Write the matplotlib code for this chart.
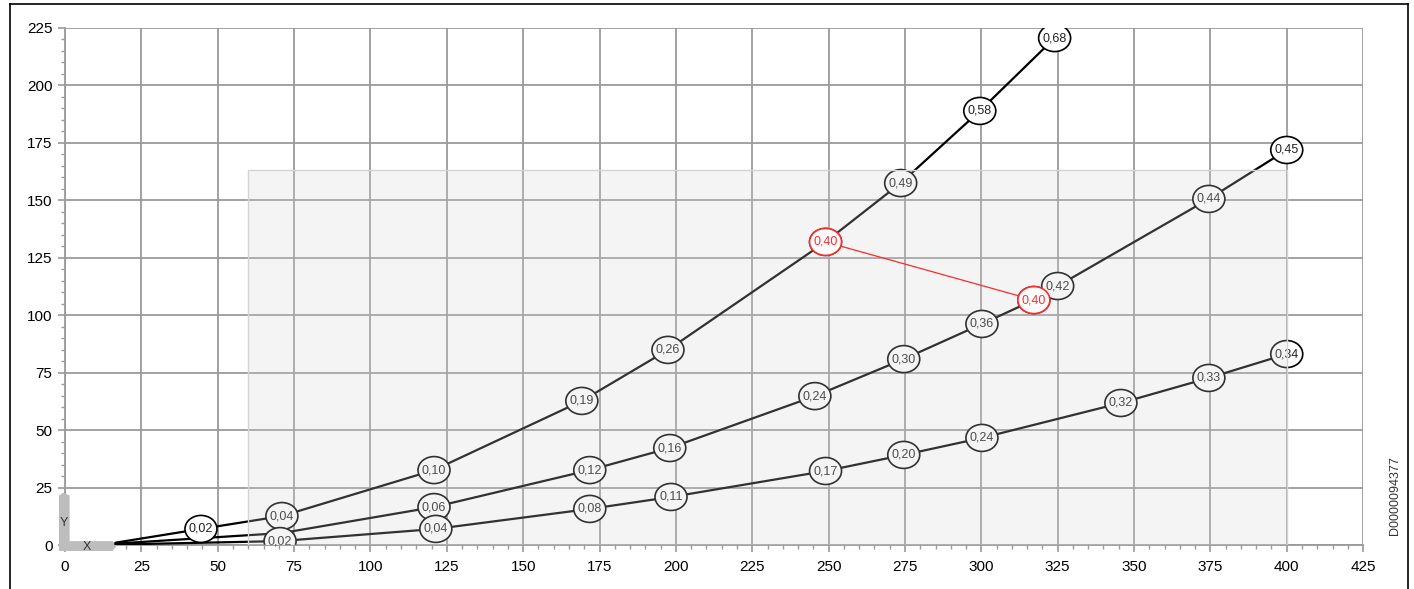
import matplotlib
matplotlib.use("Agg")
from matplotlib import pyplot as plt
from matplotlib.patches import Ellipse, Rectangle, Polygon
from matplotlib.lines import Line2D

plt.rcParams['font.family'] = ['Liberation Sans', 'DejaVu Sans']

# flow curves: (x, y) points with the value shown in each ring ('' = no ring)
top_x = [16.5, 44.5, 71, 120.8, 169.2, 197.4, 249, 273.6, 299.5, 324]
top_y = [1.0, 7.0, 12.6, 32.6, 62.7, 84.9, 131.9, 157.5, 188.9, 220.6]
top_lab = ['', '0,02', '0,04', '0,10', '0,19', '0,26', '0,40', '0,49', '0,58', '0,68']

mid_x = [16.5, 71, 120.8, 171.8, 198, 245.5, 274.6, 300.2, 317.2, 325, 374.5, 400]
mid_y = [0.6, 5.2, 16.5, 32.6, 42.2, 64.8, 80.9, 96.2, 106.6, 112.7, 150.6, 171.9]
mid_lab = ['', '', '0,06', '0,12', '0,16', '0,24', '0,30', '0,36', '0,40', '0,42', '0,44', '0,45']

low_x = [16.5, 70.4, 121.4, 171.8, 198.4, 249, 274.6, 300.2, 345.7, 374.5, 400]
low_y = [0.2, 1.7, 7.0, 15.7, 20.9, 32.2, 39.2, 46.6, 61.8, 72.7, 83.1]
low_lab = ['', '0,02', '0,04', '0,08', '0,11', '0,17', '0,20', '0,24', '0,32', '0,33', '0,34']

# operating range box
box_x = [60, 400]
box_y = [0, 163]

# red link between equal values on two curves
red_x = [249, 317.2]
red_y = [131.9, 106.6]
red_lab = ['0,40', '0,40']

x_ticks = list(range(0, 426, 25))
y_ticks = list(range(0, 226, 25))

fig = plt.figure(figsize=(14.14, 5.89), dpi=100)
ax = fig.add_axes([0.046, 0.0747, 0.918, 0.8778])
ax.set_xlim(0, 425)
ax.set_ylim(0, 225)
ax.set_xticks(x_ticks)
ax.set_yticks(y_ticks)
ax.set_xticks(range(0, 426, 5), minor=True)
ax.set_yticks(range(0, 226, 5), minor=True)
ax.grid(True, which='major', color='#9a9a9a', lw=1.3, zorder=0)
ax.set_axisbelow(True)
for side in ['top', 'right']:
    ax.spines[side].set_visible(False)
for side in ['left', 'bottom']:
    ax.spines[side].set_color('#9a9a9a')
    ax.spines[side].set_linewidth(1.3)
ax.tick_params(which='major', length=5, width=1.2, color='#9a9a9a', labelsize=11, pad=4)
ax.tick_params(which='minor', length=3, width=1.0, color='#9a9a9a')
ax.tick_params(axis='x', pad=6)


def ring(x, y, text, edge='black', tcol='#222222', z=4):
    # ring size given in pixels, converted to data units
    w = 32 / 3.055
    h = 27 / 2.298
    ax.add_patch(Ellipse((x, y), w, h, facecolor='white', edgecolor=edge, lw=1.2, zorder=z))
    ax.text(x, y, text, ha='center', va='center', fontsize=9, color=tcol, zorder=z + 0.1)


for xs, ys, labs in [(top_x, top_y, top_lab), (mid_x, mid_y, mid_lab), (low_x, low_y, low_lab)]:
    ax.plot(xs, ys, color='black', lw=1.6, zorder=3, solid_capstyle='round')
    for x, y, t in zip(xs, ys, labs):
        if t:
            ring(x, y, t)

# translucent range box laid over the curves
ax.add_patch(Rectangle((box_x[0], box_y[0]), box_x[1] - box_x[0], box_y[1] - box_y[0],
                       facecolor='#d2d2d2', alpha=0.24, edgecolor='none', zorder=6))
ax.add_patch(Rectangle((box_x[0], box_y[0]), box_x[1] - box_x[0], box_y[1] - box_y[0],
                       facecolor='none', edgecolor='#d4d4d4', lw=1.0, zorder=6.1))

ax.plot(red_x, red_y, color='#ff2a2a', lw=0.9, zorder=7)
for x, y, t in zip(red_x, red_y, red_lab):
    ring(x, y, t, edge='#ff2a2a', tcol='#ff2a2a', z=8)

# X/Y axis marker in the corner
marker = Polygon([(-2.0, -2.6), (-2.0, 21.5), (-0.6, 22.8), (1.5, 21.5), (1.5, 1.7),
                  (15.5, 1.7), (17.0, -0.2), (15.5, -2.6)],
                 closed=True, facecolor='#bdbdbe', edgecolor='none', zorder=2.6, clip_on=False)
ax.add_patch(marker)
ax.text(-0.3, 9.5, 'Y', fontsize=9, color='#333333', ha='center', va='center', zorder=2.7)
ax.text(7, -0.8, 'X', fontsize=9, color='#333333', ha='center', va='center', zorder=2.7)

fig.text(0.9865, 0.092, 'D0000094377', rotation=90, fontsize=9, color='#333333',
         ha='center', va='bottom')

# page frame
for xs, ys in [([0.0071, 0.0071], [0.0, 0.9932]), ([0.0071, 0.9958], [0.9932, 0.9932]),
               ([0.9958, 0.9958], [0.0, 0.9932])]:
    fig.add_artist(Line2D(xs, ys, color='black', lw=1.2))

fig.savefig('out.png', dpi=100)
